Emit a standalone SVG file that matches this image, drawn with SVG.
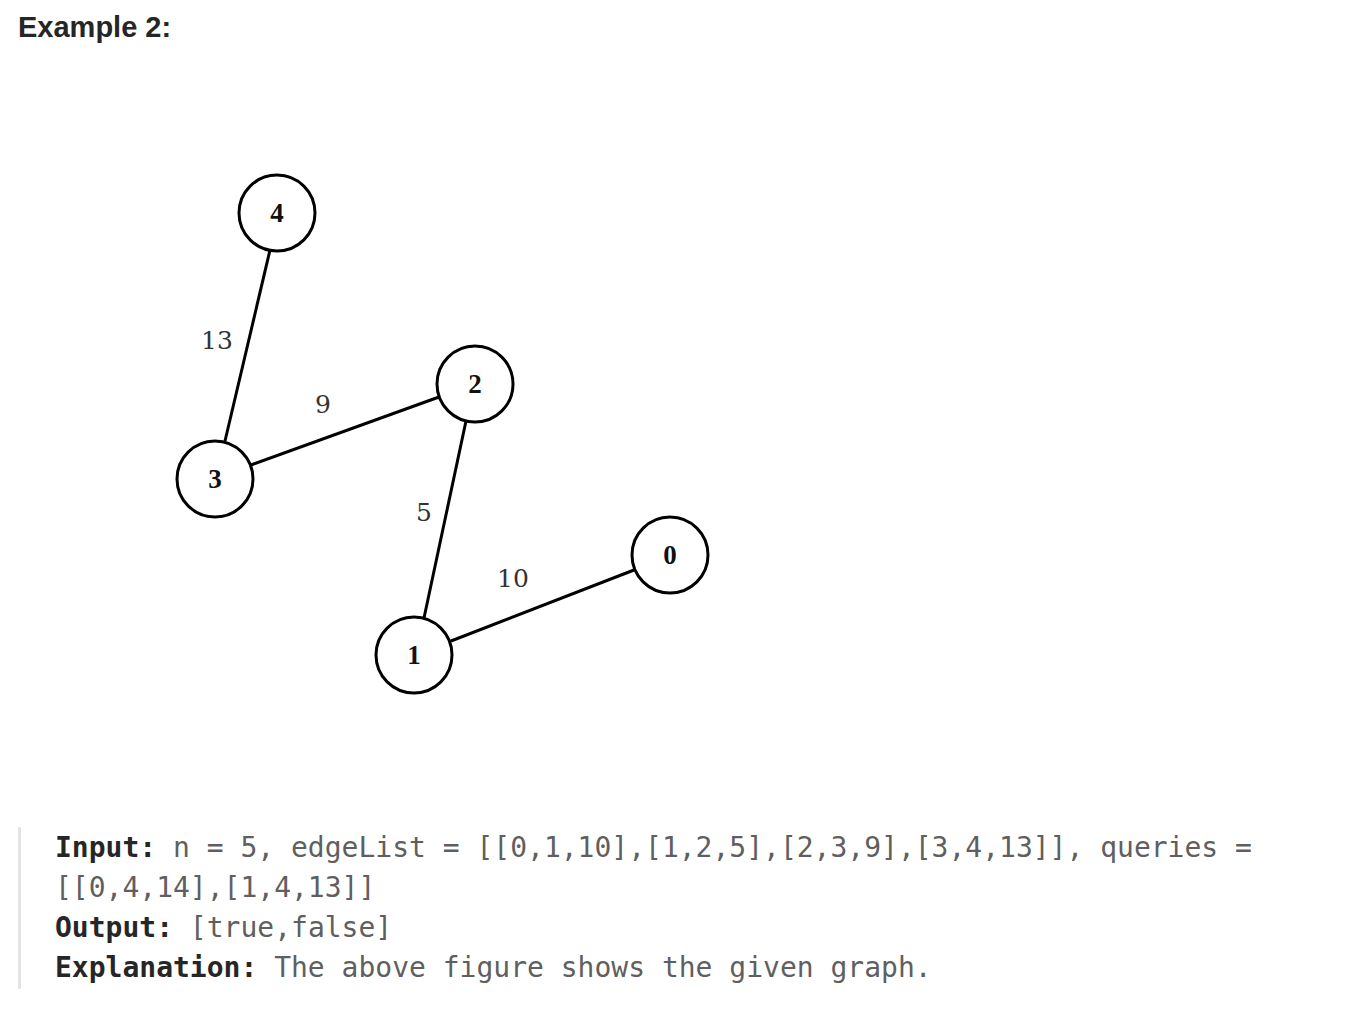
<svg xmlns="http://www.w3.org/2000/svg" width="1354" height="1018" viewBox="0 0 1354 1018">
<style>
.node{fill:#fff;stroke:#000;stroke-width:3}
.nl{font-family:"Liberation Serif","DejaVu Serif",serif;font-weight:bold;font-size:27px;fill:#111;text-anchor:middle}
.el{font-family:"DejaVu Serif","Liberation Serif",serif;font-size:25px;fill:#333;text-anchor:middle}
.edge{stroke:#000;stroke-width:3;fill:none}
.mono{font-family:"DejaVu Sans Mono","Liberation Mono",monospace;font-size:28px;fill:#5f5f5f}
.b{font-weight:bold;fill:#262626}
</style>
<rect width="1354" height="1018" fill="#fff"/>
<text x="18" y="37" font-family="Liberation Sans, Arial, sans-serif" font-weight="bold" font-size="29" fill="#262626">Example 2:</text>
<g id="connectors">
<line class="edge" x1="270" y1="250" x2="225" y2="441"/>
<line class="edge" x1="251" y1="465" x2="439" y2="397"/>
<line class="edge" x1="466" y1="421" x2="424" y2="618"/>
<line class="edge" x1="451" y1="641" x2="634" y2="570"/>
<text class="el" x="217" y="349">13</text>
<text class="el" x="323" y="413">9</text>
<text class="el" x="424" y="521">5</text>
<text class="el" x="513" y="587">10</text>
</g>
<g id="node4"><circle class="node" cx="277" cy="213" r="38"/><text class="nl" x="277" y="222">4</text></g>
<g id="node2"><circle class="node" cx="475" cy="384" r="38"/><text class="nl" x="475" y="393">2</text></g>
<g id="node3"><circle class="node" cx="215" cy="479" r="38"/><text class="nl" x="215" y="488">3</text></g>
<g id="node1"><circle class="node" cx="414" cy="655" r="38"/><text class="nl" x="414" y="664">1</text></g>
<g id="node0"><circle class="node" cx="670" cy="555" r="38"/><text class="nl" x="670" y="564">0</text></g>
<rect x="18" y="827" width="3" height="162" fill="#e5e5e5"/>
<text class="mono" x="55" y="857"><tspan class="b">Input:</tspan> n = 5, edgeList = [[0,1,10],[1,2,5],[2,3,9],[3,4,13]], queries =</text>
<text class="mono" x="55" y="897">[[0,4,14],[1,4,13]]</text>
<text class="mono" x="55" y="937"><tspan class="b">Output:</tspan> [true,false]</text>
<text class="mono" x="55" y="977"><tspan class="b">Explanation:</tspan> The above figure shows the given graph.</text>
</svg>
